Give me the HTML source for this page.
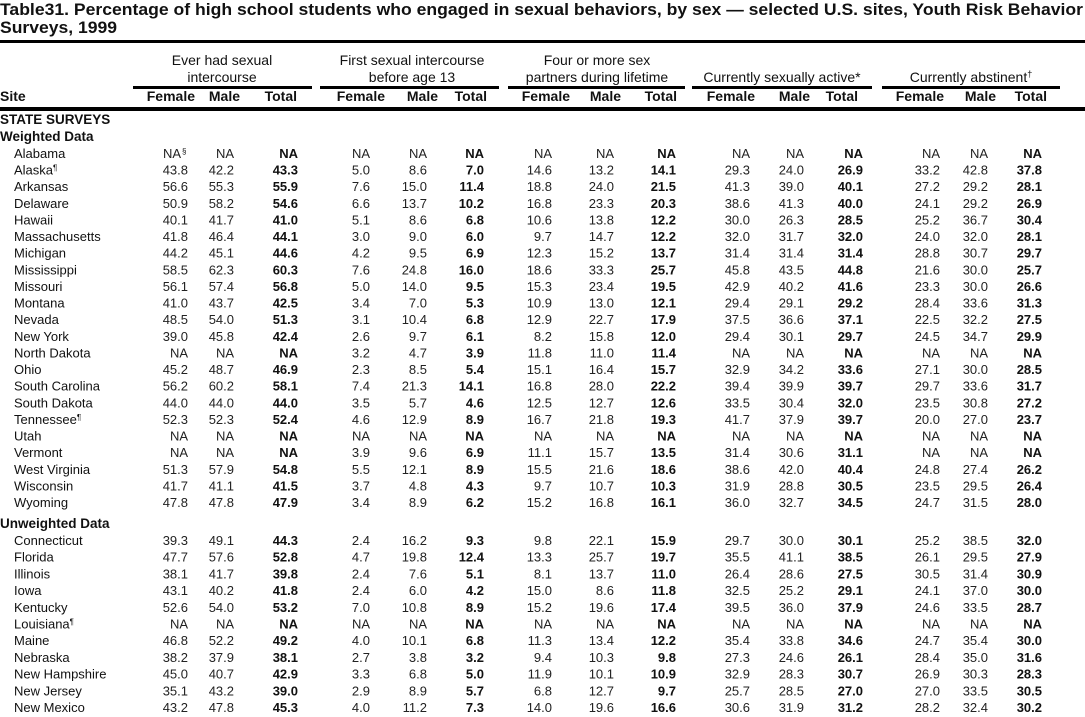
<!DOCTYPE html>
<html><head><meta charset="utf-8"><style>
html,body{margin:0;padding:0;background:#fff;}
svg{display:block;}
text{font-family:"Liberation Sans",Arial,sans-serif;fill:#111;}
.t{font-weight:bold;font-size:17px;}
.h{font-size:14px;}
.n{font-size:13px;fill:#222;}
.b{font-size:13px;font-weight:bold;}
.s{font-size:13px;}
.sec{font-size:13.5px;font-weight:bold;}
</style></head><body>
<svg id="s" width="1085" height="717" xmlns="http://www.w3.org/2000/svg">
<text class="t" x="0" y="15" textLength="1083" lengthAdjust="spacingAndGlyphs">Table31. Percentage of high school students who engaged in sexual behaviors, by sex — selected U.S. sites, Youth Risk Behavior</text>
<text class="t" x="0" y="33" textLength="117" lengthAdjust="spacingAndGlyphs">Surveys, 1999</text>
<rect x="0" y="40" width="1085" height="3" fill="#000"/>
<text class="h" x="222" y="65" text-anchor="middle">Ever had sexual</text>
<text class="h" x="222" y="82" text-anchor="middle">intercourse</text>
<text class="h" x="412" y="65" text-anchor="middle">First sexual intercourse</text>
<text class="h" x="412" y="82" text-anchor="middle">before age 13</text>
<text class="h" x="597" y="65" text-anchor="middle">Four or more sex</text>
<text class="h" x="597" y="82" text-anchor="middle">partners during lifetime</text>
<text class="h" x="782" y="82" text-anchor="middle">Currently sexually active*</text>
<text class="h" x="971" y="82" text-anchor="middle">Currently abstinent<tspan font-size="9" dy="-5">†</tspan></text>
<rect x="133" y="86" width="179" height="3" fill="#000"/>
<rect x="320" y="86" width="179" height="3" fill="#000"/>
<rect x="508" y="86" width="177" height="3" fill="#000"/>
<rect x="692" y="86" width="180" height="3" fill="#000"/>
<rect x="882" y="86" width="178" height="3" fill="#000"/>
<text class="h" x="0" y="101" font-weight="bold">Site</text>
<g class="h" text-anchor="end" font-weight="bold" font-size="14">
<text x="195" y="101">Female</text><text x="240" y="101">Male</text><text x="297" y="101">Total</text>
<text x="385" y="101">Female</text><text x="438" y="101">Male</text><text x="487" y="101">Total</text>
<text x="570" y="101">Female</text><text x="621" y="101">Male</text><text x="677" y="101">Total</text>
<text x="755" y="101">Female</text><text x="810" y="101">Male</text><text x="858" y="101">Total</text>
<text x="944" y="101">Female</text><text x="996" y="101">Male</text><text x="1047" y="101">Total</text>
</g>
<rect x="0" y="107" width="1085" height="4" fill="#000"/>
<text class="sec" x="0" y="124">STATE SURVEYS</text>
<text class="sec" x="0" y="141">Weighted Data</text>
<text class="sec" x="0" y="528">Unweighted Data</text>
<g id="rows"></g>
</svg>
<script>
var R=[188,234,298,370,427,484,552,614,676,750,804,863,940,988,1042];
var NA=["NA","NA","NA","NA","NA","NA","NA","NA","NA","NA","NA","NA","NA","NA","NA"];
function d(s){return s.split(" ");}
var w=[
["Alabama","NA§ NA NA NA NA NA NA NA NA NA NA NA NA NA NA"],
["Alaska¶","43.8 42.2 43.3 5.0 8.6 7.0 14.6 13.2 14.1 29.3 24.0 26.9 33.2 42.8 37.8"],
["Arkansas","56.6 55.3 55.9 7.6 15.0 11.4 18.8 24.0 21.5 41.3 39.0 40.1 27.2 29.2 28.1"],
["Delaware","50.9 58.2 54.6 6.6 13.7 10.2 16.8 23.3 20.3 38.6 41.3 40.0 24.1 29.2 26.9"],
["Hawaii","40.1 41.7 41.0 5.1 8.6 6.8 10.6 13.8 12.2 30.0 26.3 28.5 25.2 36.7 30.4"],
["Massachusetts","41.8 46.4 44.1 3.0 9.0 6.0 9.7 14.7 12.2 32.0 31.7 32.0 24.0 32.0 28.1"],
["Michigan","44.2 45.1 44.6 4.2 9.5 6.9 12.3 15.2 13.7 31.4 31.4 31.4 28.8 30.7 29.7"],
["Mississippi","58.5 62.3 60.3 7.6 24.8 16.0 18.6 33.3 25.7 45.8 43.5 44.8 21.6 30.0 25.7"],
["Missouri","56.1 57.4 56.8 5.0 14.0 9.5 15.3 23.4 19.5 42.9 40.2 41.6 23.3 30.0 26.6"],
["Montana","41.0 43.7 42.5 3.4 7.0 5.3 10.9 13.0 12.1 29.4 29.1 29.2 28.4 33.6 31.3"],
["Nevada","48.5 54.0 51.3 3.1 10.4 6.8 12.9 22.7 17.9 37.5 36.6 37.1 22.5 32.2 27.5"],
["New York","39.0 45.8 42.4 2.6 9.7 6.1 8.2 15.8 12.0 29.4 30.1 29.7 24.5 34.7 29.9"],
["North Dakota","NA NA NA 3.2 4.7 3.9 11.8 11.0 11.4 NA NA NA NA NA NA"],
["Ohio","45.2 48.7 46.9 2.3 8.5 5.4 15.1 16.4 15.7 32.9 34.2 33.6 27.1 30.0 28.5"],
["South Carolina","56.2 60.2 58.1 7.4 21.3 14.1 16.8 28.0 22.2 39.4 39.9 39.7 29.7 33.6 31.7"],
["South Dakota","44.0 44.0 44.0 3.5 5.7 4.6 12.5 12.7 12.6 33.5 30.4 32.0 23.5 30.8 27.2"],
["Tennessee¶","52.3 52.3 52.4 4.6 12.9 8.9 16.7 21.8 19.3 41.7 37.9 39.7 20.0 27.0 23.7"],
["Utah","NA NA NA NA NA NA NA NA NA NA NA NA NA NA NA"],
["Vermont","NA NA NA 3.9 9.6 6.9 11.1 15.7 13.5 31.4 30.6 31.1 NA NA NA"],
["West Virginia","51.3 57.9 54.8 5.5 12.1 8.9 15.5 21.6 18.6 38.6 42.0 40.4 24.8 27.4 26.2"],
["Wisconsin","41.7 41.1 41.5 3.7 4.8 4.3 9.7 10.7 10.3 31.9 28.8 30.5 23.5 29.5 26.4"],
["Wyoming","47.8 47.8 47.9 3.4 8.9 6.2 15.2 16.8 16.1 36.0 32.7 34.5 24.7 31.5 28.0"]];
var u=[
["Connecticut","39.3 49.1 44.3 2.4 16.2 9.3 9.8 22.1 15.9 29.7 30.0 30.1 25.2 38.5 32.0"],
["Florida","47.7 57.6 52.8 4.7 19.8 12.4 13.3 25.7 19.7 35.5 41.1 38.5 26.1 29.5 27.9"],
["Illinois","38.1 41.7 39.8 2.4 7.6 5.1 8.1 13.7 11.0 26.4 28.6 27.5 30.5 31.4 30.9"],
["Iowa","43.1 40.2 41.8 2.4 6.0 4.2 15.0 8.6 11.8 32.5 25.2 29.1 24.1 37.0 30.0"],
["Kentucky","52.6 54.0 53.2 7.0 10.8 8.9 15.2 19.6 17.4 39.5 36.0 37.9 24.6 33.5 28.7"],
["Louisiana¶","NA NA NA NA NA NA NA NA NA NA NA NA NA NA NA"],
["Maine","46.8 52.2 49.2 4.0 10.1 6.8 11.3 13.4 12.2 35.4 33.8 34.6 24.7 35.4 30.0"],
["Nebraska","38.2 37.9 38.1 2.7 3.8 3.2 9.4 10.3 9.8 27.3 24.6 26.1 28.4 35.0 31.6"],
["New Hampshire","45.0 40.7 42.9 3.3 6.8 5.0 11.9 10.1 10.9 32.9 28.3 30.7 26.9 30.3 28.3"],
["New Jersey","35.1 43.2 39.0 2.9 8.9 5.7 6.8 12.7 9.7 25.7 28.5 27.0 27.0 33.5 30.5"],
["New Mexico","43.2 47.8 45.3 4.0 11.2 7.3 14.0 19.6 16.6 30.6 31.9 31.2 28.2 32.4 30.2"]];
var h="";
function sup(t){return t.replace("¶",'<tspan font-size="8" dy="-4">¶</tspan>').replace("§",'<tspan font-size="8" dy="-4">§</tspan>');}
function row(r,y){
 h+='<text class="s" x="14" y="'+y+'">'+sup(r[0])+'</text>';
 var v=d(r[1]);
 for(var i=0;i<15;i++){
  var cls=(i%3==2)?"b":"n";var x=R[i];var t=v[i];
  if(t.indexOf("§")>=0){h+='<text class="n" x="'+(x-7)+'" y="'+y+'" text-anchor="end">NA</text><text x="'+(x-6)+'" y="'+(y-4)+'" font-size="8">§</text>';continue;}
  h+='<text class="'+cls+'" x="'+x+'" y="'+y+'" text-anchor="end">'+t+'</text>';
 }
}
for(var i=0;i<w.length;i++)row(w[i],(158+16.62*i).toFixed(1));
for(var j=0;j<u.length;j++)row(u[j],(545+16.7*j).toFixed(1));
document.getElementById("rows").innerHTML=h;
</script>
</body></html>
